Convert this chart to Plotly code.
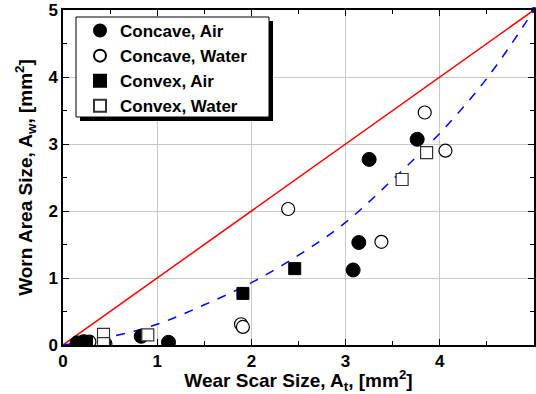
import plotly.graph_objects as go

# Data
concave_air_x = [0.15, 0.22, 0.83, 1.12, 3.08, 3.14, 3.25, 3.76]
concave_air_y = [0.03, 0.05, 0.13, 0.04, 1.12, 1.53, 2.77, 3.07]
concave_water_x = [0.28, 0.45, 1.89, 1.91, 2.39, 3.38, 3.84, 4.06]
concave_water_y = [0.05, 0.02, 0.31, 0.27, 2.03, 1.54, 3.47, 2.90]
convex_air_x = [0.18, 0.25, 1.91, 2.46]
convex_air_y = [0.04, 0.04, 0.77, 1.14]
convex_water_x = [0.43, 0.43, 0.90, 3.60, 3.86]
convex_water_y = [0.16, 0.02, 0.15, 2.47, 2.87]

ref_x = [0, 5]
ref_y = [0, 5]
fit_x = [0, 0.5, 1.0, 1.5, 2.0, 2.5, 3.0, 3.5, 4.0, 4.5, 5.0]
fit_y = [0, 0.12, 0.31, 0.60, 0.93, 1.34, 1.83, 2.47, 3.16, 3.98, 5.0]

tick_vals = [0, 1, 2, 3, 4, 5]
tick_text = ["0", "1", "2", "3", "4", "5"]

FONT = "Liberation Sans, Arial, sans-serif"

fig = go.Figure()
fig.add_trace(go.Scatter(x=ref_x, y=ref_y, mode="lines",
                         line=dict(color="#ff0000", width=1.5), showlegend=False))
fig.add_trace(go.Scatter(x=fit_x, y=fit_y, mode="lines",
                         line=dict(color="#0000ff", width=1.5, dash="dash", shape="spline"),
                         showlegend=False))
fig.add_trace(go.Scatter(x=[fit_x[-1]], y=[fit_y[-1]], mode="markers",
                         marker=dict(symbol="circle", size=6, color="#0000ff"),
                         showlegend=False, cliponaxis=False))
fig.add_trace(go.Scatter(x=concave_air_x, y=concave_air_y, mode="markers", name="Concave, Air",
                         marker=dict(symbol="circle", size=14, color="black",
                                     line=dict(color="black", width=1))))
fig.add_trace(go.Scatter(x=concave_water_x, y=concave_water_y, mode="markers", name="Concave, Water",
                         marker=dict(symbol="circle", size=13, color="white",
                                     line=dict(color="black", width=1.2))))
fig.add_trace(go.Scatter(x=convex_air_x, y=convex_air_y, mode="markers", name="Convex, Air",
                         marker=dict(symbol="square", size=12, color="black",
                                     line=dict(color="black", width=1))))
fig.add_trace(go.Scatter(x=convex_water_x, y=convex_water_y, mode="markers", name="Convex, Water",
                         marker=dict(symbol="square", size=12, color="white",
                                     line=dict(color="#333333", width=1.2))))

axis_common = dict(
    range=[0, 5], tickvals=tick_vals, ticktext=tick_text,
    showline=True, linecolor="black", linewidth=1.5, mirror="ticks",
    ticks="inside", ticklen=6, tickcolor="black", tickwidth=1,
    showgrid=True, gridcolor="#c8c8c8", gridwidth=1, zeroline=False,
    automargin=False,
    tickfont=dict(family=FONT, size=17, color="black", weight="bold"),
    minor=dict(dtick=0.5, ticks="inside", ticklen=4, tickcolor="black", showgrid=False),
)

# plot area in px: x 63..534, y 10..345
def px_x(p):
    return (p - 63) / 471.0

def px_y(p):
    return (345 - p) / 335.0

fig.update_layout(
    width=536, height=394,
    margin=dict(l=63, r=2, t=10, b=49),
    plot_bgcolor="white", paper_bgcolor="white",
    font=dict(family=FONT, color="black"),
    xaxis=dict(**axis_common,
               title=dict(text="Wear Scar Size, A<sub>t</sub>, [mm<sup>2</sup>]",
                          font=dict(family=FONT, size=19, color="black", weight="bold"),
                          standoff=10)),
    yaxis=dict(**axis_common,
               title=dict(text="Worn Area Size, A<sub>w</sub>, [mm<sup>2</sup>]",
                          font=dict(family=FONT, size=19, color="black", weight="bold"),
                          standoff=11)),
    legend=dict(x=px_x(80), y=px_y(13), xanchor="left", yanchor="top",
                bgcolor="rgba(0,0,0,0)", borderwidth=0,
                font=dict(family=FONT, size=17, color="black", weight="bold"),
                tracegroupgap=0, itemsizing="constant"),
    shapes=[
        dict(type="rect", xref="paper", yref="paper",
             x0=px_x(80), x1=px_x(273), y0=px_y(121), y1=px_y(21),
             fillcolor="black", line=dict(width=0), layer="above"),
        dict(type="rect", xref="paper", yref="paper",
             x0=px_x(76), x1=px_x(269), y0=px_y(117), y1=px_y(17),
             fillcolor="white", line=dict(color="black", width=1), layer="above"),
    ],
)

fig.write_html("out.html")
